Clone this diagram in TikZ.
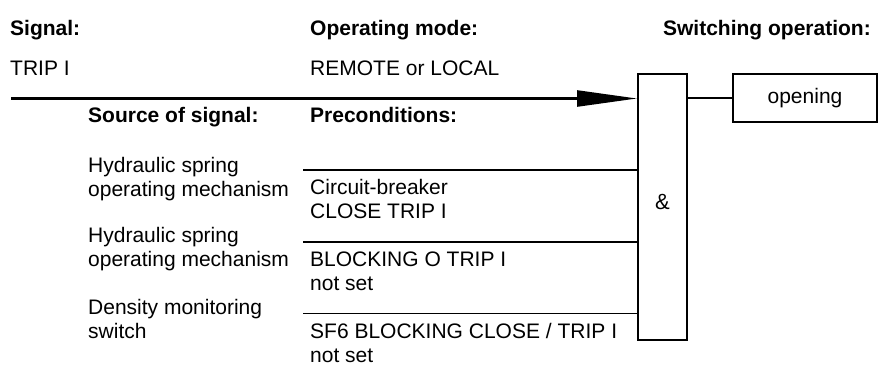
\documentclass[tikz,border=0pt]{standalone}
\usepackage{fontspec}
\setmainfont{Liberation Sans}
\usetikzlibrary{arrows.meta}
\begin{document}
\begin{tikzpicture}[x=1pt,y=-1pt,
  txt/.style={anchor=base west,inner sep=0pt,font=\fontsize{21}{24}\selectfont},
  hdr/.style={txt,font=\fontsize{21}{24}\selectfont\bfseries},
  mainline/.style={line width=2.4pt},
  thinline/.style={line width=1.3pt},
  gatebox/.style={draw,line width=2pt,minimum width=49pt,minimum height=266pt,inner sep=0pt,font=\fontsize{22}{24}\selectfont},
  outbox/.style={draw,line width=2pt,minimum width=144pt,minimum height=48pt,inner sep=0pt,font=\fontsize{21}{24}\selectfont}
]
\useasboundingbox (0,0) rectangle (879,367);
% headers
\node[hdr] (hsig) at (10,35.5) {Signal:};
\node[hdr] (hmode) at (310,35.5) {Operating mode:};
\node[hdr,anchor=base east] (hsw) at (871,35.5) {Switching operation:};
\node[txt] (trip) at (10,75) {TRIP I};
\node[txt] (mode) at (310,75) {REMOTE or LOCAL};
\node[hdr] (hsrc) at (88,122) {Source of signal:};
\node[hdr] (hpre) at (310,122) {Preconditions:};
% sources
\node[txt] (s1a) at (88,172) {Hydraulic spring};
\node[txt] (s1b) at (88,196) {operating mechanism};
\node[txt] (s2a) at (88,242) {Hydraulic spring};
\node[txt] (s2b) at (88,266) {operating mechanism};
\node[txt] (s3a) at (88,314) {Density monitoring};
\node[txt] (s3b) at (88,338) {switch};
% preconditions
\node[txt] (p1a) at (310,194) {Circuit-breaker};
\node[txt] (p1b) at (310,218) {CLOSE TRIP I};
\node[txt] (p2a) at (310,266) {BLOCKING O TRIP I};
\node[txt] (p2b) at (310,290) {not set};
\node[txt] (p3a) at (310,338) {SF6 BLOCKING CLOSE / TRIP I};
\node[txt] (p3b) at (310,362) {not set};
% gate and output
\node[gatebox] (and) at (662.5,207) {\raisebox{11pt}{\&}};
\node[outbox] (out) at (805,98) {\raisebox{1pt}{opening}};
% connectors
\coordinate (sigstart) at (11,98.5);
\coordinate (c1) at (303,170);
\coordinate (c2) at (303,242);
\coordinate (c3) at (303,313.5);
\draw[mainline,-{Triangle[length=60pt,width=16pt]}] (sigstart) -- (sigstart -| and.west);
\draw[thinline] (c1) -- (c1 -| and.west);
\draw[thinline] (c2) -- (c2 -| and.west);
\draw[thinline] (c3) -- (c3 -| and.west);
\draw[thinline,line width=1.6pt] (and.east |- out.west) -- (out.west);
\end{tikzpicture}
\end{document}
